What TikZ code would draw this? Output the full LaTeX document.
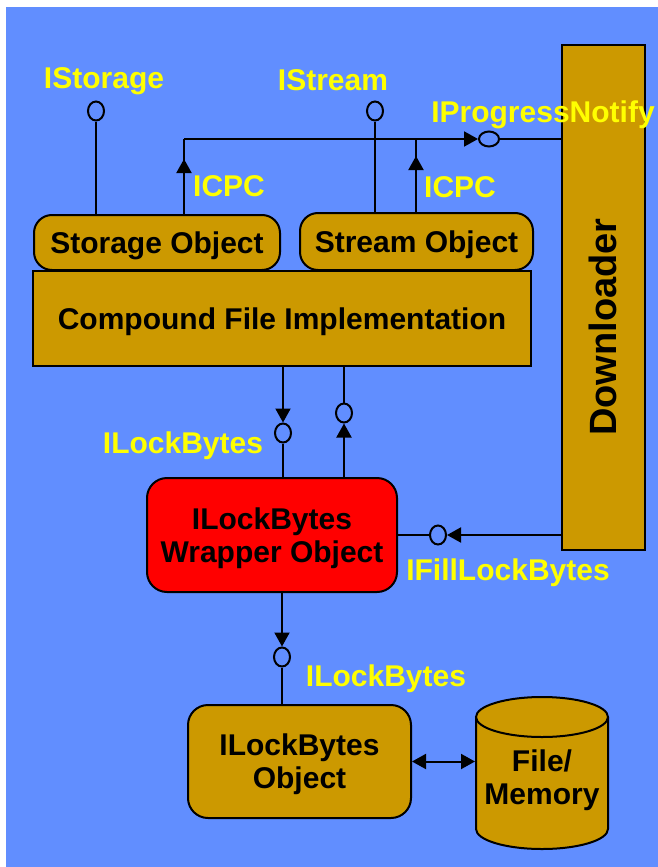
\documentclass[tikz,border=0pt]{standalone}
\usepackage{fontspec}
\setmainfont{Liberation Sans}
\usetikzlibrary{arrows.meta,shapes.geometric}
\definecolor{bgblue}{RGB}{97,142,255}
\definecolor{gold}{RGB}{204,153,0}
\definecolor{lblyellow}{RGB}{255,255,0}
\tikzset{
	tri/.tip={Triangle[length=14pt,width=15pt]},
	box/.style={draw, line width=2pt, fill=gold, align=center, inner sep=0pt, text depth=0pt},
	rbox/.style={box, rounded corners=18pt},
	lolv/.style={draw, line width=2pt, ellipse, inner sep=0pt, minimum width=16pt, minimum height=19pt},
	lolh/.style={draw, line width=2pt, ellipse, inner sep=0pt, minimum width=20pt, minimum height=15pt},
	lbl/.style={text=lblyellow, inner sep=0pt},
}
\begin{document}
\begin{tikzpicture}[x=1pt, y=-1pt, line width=2pt, font=\bfseries\fontsize{30}{33}\selectfont]
		% Draw background
		\useasboundingbox (0,0) rectangle (658,867);
		\fill[white] (0,0) rectangle (658,867);
		\fill[bgblue] (6,7) rectangle (658,867);

		% Draw boxes
		\node[box, minimum width=498pt, minimum height=95pt] (cfi) at (282,318.5) {Compound File Implementation};
		\node[rbox, minimum width=246pt, minimum height=55pt] (sobj) at (157,242.5) {Storage Object};
		\node[rbox, minimum width=233pt, minimum height=57pt] (tobj) at (416.5,241.5) {Stream Object};
		\node[rbox, fill=red, rounded corners=20pt, minimum width=250pt, minimum height=114pt] (wrap) at (272,535) {ILockBytes\\Wrapper Object};
		\node[rbox, rounded corners=20pt, minimum width=223pt, minimum height=113pt] (lbo) at (299.5,761.5) {ILockBytes\\Object};
		\node[box, minimum width=83pt, minimum height=505pt] (dl) at (603.5,297.5) {};
		\node[rotate=90, font=\bfseries\fontsize{38}{40}\selectfont] (dltxt) at (603,327) {Downloader};

		% Draw file/memory store
		\fill[gold] (476,717) -- (476,829) arc[start angle=180, end angle=0, x radius=66, y radius=20] -- (608,717) -- cycle;
		\draw (476,717) -- (476,829) arc[start angle=180, end angle=0, x radius=66, y radius=20] -- (608,717);
		\draw[fill=gold] (542,717) ellipse[x radius=66, y radius=20];
		\node[align=center, minimum width=132pt, minimum height=152pt, inner sep=0pt, text depth=0pt] (mem) at (542,777) {File/\\Memory};

		% Draw interfaces
		\node[lolv] (stg) at (96,111) {};
		\node[lolv] (strm) at (375,111) {};
		\node[lolh] (pn) at (489,139) {};
		\node[lolv] (lb1) at (283,433) {};
		\node[lolv] (lb2) at (344,413) {};
		\node[lolv] (fl) at (438,535) {};
		\node[lolv] (lb3) at (282,657) {};
		\coordinate (cpc1) at (184,139);
		\coordinate (cpc2) at (416,139);

		% Draw connectors
		\draw (stg.south) -- (stg |- sobj.north);
		\draw (strm.south) -- (strm |- tobj.north);
		\draw[-tri] (cpc1 |- sobj.north) -- ++(0,-55);
		\draw (cpc1 |- sobj.north) -- (cpc1);
		\draw[-tri] (cpc2 |- tobj.north) -- ++(0,-56);
		\draw (cpc2 |- tobj.north) -- (cpc2);
		\draw[-tri] (cpc1) -- (pn.west);
		\draw (pn.east) -- (pn -| dl.west);
		\draw[-tri] (lb1 |- cfi.south) -- (lb1.north);
		\draw (lb1.south) -- (lb1 |- wrap.north);
		\draw (lb2.north) -- (lb2 |- cfi.south);
		\draw[-tri] (lb2 |- wrap.north) -- (lb2.south);
		\draw (fl.west) -- (fl -| wrap.east);
		\draw[-tri] (fl -| dl.west) -- (fl.east);
		\draw[-tri] (lb3 |- wrap.south) -- (lb3.north);
		\draw (lb3.south) -- (lb3 |- lbo.north);
		\draw[tri-tri] (lbo.east) -- (lbo.east -| mem.west);

		% Draw labels
		\node[lbl] (lstg) at (104,81) {IStorage};
		\node[lbl] (lstrm) at (333,80) {IStream};
		\node[lbl] (lcpc1) at (229,186) {ICPC};
		\node[lbl] (lcpc2) at (460,187) {ICPC};
		\node[lbl] (llb1) at (183,446) {ILockBytes};
		\node[lbl] (lfl) at (508,573) {IFillLockBytes};
		\node[lbl] (llb3) at (386,679) {ILockBytes};
		\node[lbl] (lpn) at (543,115) {IProgressNotify};
	\end{tikzpicture}
\end{document}
